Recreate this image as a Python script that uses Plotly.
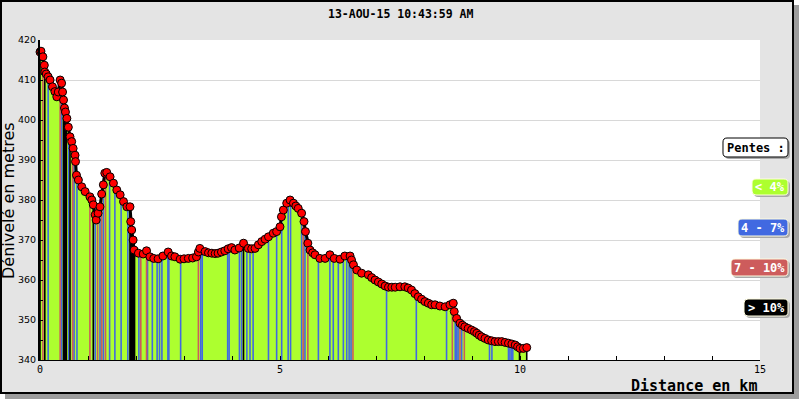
import plotly.graph_objects as go

# ---------------- data ----------------
dist_km = [0.00, 0.02, 0.06, 0.09, 0.10, 0.13, 0.17, 0.21, 0.26, 0.31, 0.35, 0.38, 0.42, 0.45,
           0.47, 0.49, 0.51, 0.53, 0.56, 0.59, 0.625, 0.66, 0.69, 0.73, 0.74, 0.76, 0.80, 0.87,
           0.94, 1.04, 1.08, 1.11, 1.15, 1.17, 1.21, 1.25, 1.285, 1.32, 1.35, 1.39, 1.46, 1.53,
           1.60, 1.67, 1.74, 1.81, 1.875, 1.89, 1.91, 1.94, 1.96, 2.05, 2.15, 2.22, 2.29, 2.37,
           2.46, 2.56, 2.67, 2.74, 2.81, 2.92, 3.00, 3.09, 3.18, 3.26, 3.30, 3.33, 3.44, 3.51,
           3.58, 3.65, 3.71, 3.78, 3.85, 3.92, 3.99, 4.06, 4.15, 4.24, 4.34, 4.41, 4.48, 4.55,
           4.62, 4.69, 4.76, 4.86, 4.93, 5.00, 5.03, 5.07, 5.14, 5.21, 5.28, 5.33, 5.38, 5.45,
           5.50, 5.53, 5.58, 5.625, 5.68, 5.73, 5.83, 5.94, 6.04, 6.13, 6.25, 6.35, 6.46, 6.49,
           6.53, 6.60, 6.70, 6.84, 6.91, 6.98, 7.05, 7.12, 7.19, 7.26, 7.33, 7.40, 7.50, 7.60,
           7.67, 7.74, 7.81, 7.88, 7.95, 8.02, 8.09, 8.16, 8.23, 8.33, 8.44, 8.54, 8.61, 8.63,
           8.68, 8.75, 8.80, 8.85, 8.92, 8.99, 9.05, 9.10, 9.15, 9.20, 9.27, 9.34, 9.41, 9.48,
           9.55, 9.62, 9.69, 9.76, 9.83, 9.90, 9.95, 10.00, 10.07, 10.14]
elev_m = [417.0, 417.2, 415.8, 413.7, 412.0, 411.5, 410.8, 410.0, 408.3, 407.1, 405.8, 407.0, 410.0, 409.2,
          407.0, 405.0, 403.0, 402.0, 400.4, 398.2, 395.8, 394.6, 392.9, 391.2, 389.6, 386.2, 385.0, 383.3,
          382.1, 380.8, 380.0, 378.8, 376.3, 375.0, 376.7, 378.3, 381.5, 383.8, 386.7, 386.9, 385.8, 384.2,
          382.5, 381.3, 379.6, 378.3, 378.3, 374.6, 372.5, 370.0, 367.5, 366.7, 366.5, 367.3, 365.8, 365.4,
          365.3, 366.0, 367.0, 366.0, 365.8, 365.2, 365.3, 365.4, 365.5, 365.8, 367.0, 367.9, 367.1, 366.8,
          366.7, 366.6, 366.7, 367.0, 367.3, 367.8, 368.1, 367.5, 368.0, 369.2, 367.9, 367.8, 367.9, 368.8,
          369.6, 370.2, 370.8, 371.7, 372.1, 373.3, 375.8, 377.5, 379.2, 380.0, 379.2, 378.5, 377.9, 376.7,
          374.6, 372.1, 369.2, 367.5, 366.8, 366.3, 365.4, 365.4, 366.3, 365.4, 365.2, 366.0, 366.0, 365.0,
          363.8, 362.5, 361.7, 361.3, 360.6, 360.0, 359.5, 359.0, 358.5, 358.2, 358.2, 358.2, 358.3, 358.3,
          358.0, 357.5, 356.6, 355.8, 355.2, 354.6, 354.2, 353.8, 353.8, 353.5, 353.3, 353.8, 354.2, 352.1,
          350.4, 349.2, 348.7, 348.3, 347.9, 347.5, 347.1, 346.7, 346.2, 345.8, 345.4, 345.0, 344.8, 344.6,
          344.6, 344.6, 344.4, 344.2, 344.0, 343.75, 343.3, 342.9, 342.9, 343.1]

# slope stripes: 1 = 4-7 %, 2 = 7-10 %, 3 = > 10 %
stripe_km = [0.00, 0.06, 0.10, 0.17, 0.42, 0.45, 0.49, 0.51, 0.53, 0.55, 0.60, 0.625, 0.68, 0.71,
             0.77, 1.04, 1.11, 1.15, 1.20, 1.25, 1.285, 1.32, 1.365, 1.45, 1.56, 1.69, 1.83, 1.875,
             1.89, 1.91, 1.93, 1.95, 1.97, 2.06, 2.10, 2.22, 2.24, 2.34, 2.44, 2.49, 2.54, 2.665,
             2.685, 2.93, 3.30, 3.35, 3.38, 3.91, 3.94, 4.155, 4.20, 4.24, 4.31, 4.375, 4.44, 4.76,
             4.93, 5.035, 5.17, 5.22, 5.45, 5.485, 5.52, 5.58, 5.80, 6.04, 6.11, 6.215, 6.32, 6.39,
             6.44, 6.48, 6.52, 7.22, 7.84, 8.47, 8.59, 8.65, 8.68, 8.71, 8.75, 8.785, 8.84, 9.365,
             9.415, 9.76, 9.79, 9.82, 9.85, 9.99, 10.14]
stripe_elev = [417.0, 415.5, 412.0, 410.8, 410.0, 409.0, 405.0, 403.0, 402.0, 401.0, 397.5, 395.8, 393.3, 392.2,
               386.0, 380.8, 378.8, 376.3, 376.3, 378.3, 381.5, 383.8, 386.7, 386.0, 383.5, 380.8, 378.3, 378.3,
               374.6, 372.5, 370.5, 368.5, 367.0, 366.7, 366.6, 367.3, 367.0, 365.6, 365.3, 365.4, 365.8, 367.0,
               367.0, 365.2, 367.0, 367.9, 367.7, 367.8, 368.0, 368.0, 368.6, 369.2, 368.2, 367.8, 367.8, 370.8,
               372.1, 375.8, 379.5, 380.0, 376.7, 375.5, 373.0, 369.2, 365.6, 366.3, 365.6, 365.0, 365.8, 366.0,
               366.0, 365.5, 364.0, 358.4, 356.3, 353.4, 354.0, 351.5, 350.4, 350.0, 349.2, 348.9, 348.4, 344.9,
               344.8, 344.2, 344.1, 344.0, 343.9, 343.0, 342.9]
stripe_class = [3, 2, 3, 1, 2, 1, 3, 3, 3, 3, 1, 3, 2, 1,
                1, 2, 3, 1, 2, 1, 2, 1, 2, 1, 1, 1, 1, 3,
                3, 3, 3, 3, 3, 1, 2, 2, 1, 1, 1, 1, 1, 1,
                1, 1, 2, 1, 1, 1, 1, 1, 1, 3, 1, 1, 1, 1,
                1, 1, 1, 1, 1, 2, 1, 2, 1, 1, 1, 1, 1, 1,
                1, 1, 2, 1, 1, 1, 2, 1, 1, 1, 2, 1, 2, 1,
                1, 1, 1, 1, 1, 3, 3]

title_text = "13-AOU-15 10:43:59 AM"
x_title = "Distance en km"
y_title = "Dénivelé en metres"
legend_title = "Pentes :"
legend_labels = ["< 4%", "4 - 7%", "7 - 10%", "> 10%"]
x_tick_vals = [0, 5, 10, 15]
y_tick_vals = [340, 350, 360, 370, 380, 390, 400, 410, 420]
Y_BASE = 340

# ---------------- style ----------------
GREEN = "#adff2f"
BLUE = "#4169e1"
RED = "#cd5c5c"
BLACK = "#000000"
FRAME_BG = "#e4e4e4"
class_colors = {1: BLUE, 2: RED, 3: BLACK}
MONO = "DejaVu Sans Mono"
SANS = "DejaVu Sans"

W, H = 800, 400
L, R, T, B = 40, 40, 40, 40
PW, PH = W - L - R, H - T - B


def px_x(px):
    return (px - L) / PW


def px_y(py):
    return (H - B - py) / PH


def rrect_path(x0, y0, x1, y1, r):
    pts = [("M", x0 + r, y0), ("L", x1 - r, y0), ("Q", x1, y0, x1, y0 + r),
           ("L", x1, y1 - r), ("Q", x1, y1, x1 - r, y1), ("L", x0 + r, y1),
           ("Q", x0, y1, x0, y1 - r), ("L", x0, y0 + r), ("Q", x0, y0, x0 + r, y0)]
    s = ""
    for p in pts:
        cmd = p[0]
        coords = p[1:]
        parts = []
        for i in range(0, len(coords), 2):
            parts.append(f"{px_x(coords[i]):.5f},{px_y(coords[i + 1]):.5f}")
        s += cmd + " " + " ".join(parts) + " "
    return s + "Z"


fig = go.Figure()

# green profile area
fig.add_trace(go.Scatter(x=dist_km, y=elev_m, mode="lines", fill="tozeroy",
                         fillcolor=GREEN, line=dict(width=0, color=GREEN),
                         hoverinfo="skip", showlegend=False))

# slope stripes, one trace per class, drawn as vertical segments
for cls in (1, 2, 3):
    xs, ys = [], []
    for k, e, c in zip(stripe_km, stripe_elev, stripe_class):
        if c == cls:
            xs += [k, k, None]
            ys += [Y_BASE, e, None]
    fig.add_trace(go.Scatter(x=xs, y=ys, mode="lines", line=dict(color=class_colors[cls], width=1.6),
                             hoverinfo="skip", showlegend=False))

# profile points
fig.add_trace(go.Scatter(x=dist_km, y=elev_m, mode="lines+markers",
                         line=dict(color="black", width=3),
                         marker=dict(size=8, color="#ff0000", line=dict(color="black", width=1)),
                         showlegend=False, cliponaxis=False))

shapes = []
# outer frame with shadow, then white plot area (all below the traces)
shapes.append(dict(type="rect", xref="paper", yref="paper", layer="below",
                   x0=px_x(5), x1=px_x(799), y0=px_y(399), y1=px_y(5),
                   fillcolor="#9c9c9c", line=dict(width=0)))
shapes.append(dict(type="rect", xref="paper", yref="paper", layer="below",
                   x0=px_x(1), x1=px_x(793), y0=px_y(393), y1=px_y(1),
                   fillcolor=FRAME_BG, line=dict(color="black", width=2)))
shapes.append(dict(type="rect", xref="paper", yref="paper", layer="below",
                   x0=0, x1=1, y0=0, y1=1, fillcolor="white", line=dict(width=0)))

annotations = []
# legend boxes
boxes = [(723, 138, 788, 157, "white", "black", legend_title, "black"),
         (752, 179, 788, 195, GREEN, "#fffde0", legend_labels[0], "white"),
         (738, 219, 788, 236, BLUE, "#fffde0", legend_labels[1], "white"),
         (731, 259, 788, 276, RED, "#fffde0", legend_labels[2], "white"),
         (744, 299, 788, 316, BLACK, "#fffde0", legend_labels[3], "white")]
for (x0, y0, x1, y1, fc, lc, txt, tc) in boxes:
    shapes.append(dict(type="path", xref="paper", yref="paper",
                       path=rrect_path(x0 + 2, y0 + 2, x1 + 2, y1 + 2, 4),
                       fillcolor="#a8a8a8", line=dict(width=0)))
    shapes.append(dict(type="path", xref="paper", yref="paper",
                       path=rrect_path(x0, y0, x1, y1, 4),
                       fillcolor=fc, line=dict(color=lc, width=1)))
    annotations.append(dict(x=px_x((x0 + x1) / 2), y=px_y((y0 + y1) / 2), xref="paper", yref="paper",
                            text="<b>" + txt + "</b>", showarrow=False, xanchor="center", yanchor="middle",
                            font=dict(family=MONO, size=12, color=tc)))

annotations.append(dict(x=px_x(400), y=px_y(14), xref="paper", yref="paper", text="<b>" + title_text + "</b>",
                        showarrow=False, xanchor="center", yanchor="middle",
                        font=dict(family=MONO, size=11.5, color="black")))
annotations.append(dict(x=px_x(759), y=px_y(386), xref="paper", yref="paper", text="<b>" + x_title + "</b>",
                        showarrow=False, xanchor="right", yanchor="middle",
                        font=dict(family=MONO, size=15, color="black")))
annotations.append(dict(x=px_x(8), y=px_y(201), xref="paper", yref="paper", text=y_title,
                        showarrow=False, xanchor="center", yanchor="middle", textangle=-90,
                        font=dict(family=SANS, size=16, color="black")))

fig.update_layout(
    width=W, height=H, autosize=False,
    margin=dict(l=L, r=R, t=T, b=B, pad=0),
    paper_bgcolor="white", plot_bgcolor="rgba(0,0,0,0)",
    showlegend=False,
    shapes=shapes, annotations=annotations,
    xaxis=dict(range=[0, 15], tickvals=x_tick_vals, ticks="inside", ticklen=4, tickcolor="black",
               showline=True, linecolor="black", linewidth=1, showgrid=False, zeroline=False,
               tickfont=dict(family=MONO, size=10, color="black"),
               minor=dict(dtick=1, tick0=0, ticks="inside", ticklen=4, tickcolor="black", showgrid=False)),
    yaxis=dict(range=[340, 420], tickvals=y_tick_vals, ticks="inside", ticklen=3, tickcolor="black",
               showline=True, linecolor="black", linewidth=2, showgrid=True, gridcolor="#d8d8d8",
               gridwidth=1, zeroline=False,
               tickfont=dict(family=SANS, size=9.5, color="black"),
               minor=dict(dtick=5, tick0=340, ticks="inside", ticklen=3, tickcolor="black", showgrid=False)),
)

fig.write_html("out.html", config={"displayModeBar": False},
               post_script="document.body.style.margin='0px';")
